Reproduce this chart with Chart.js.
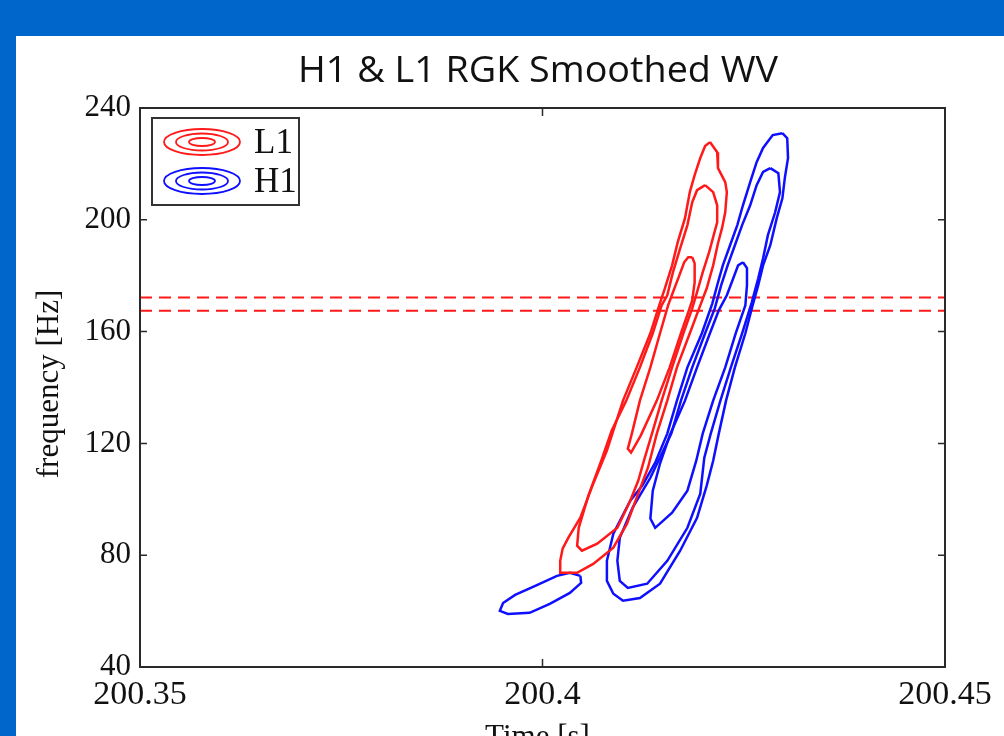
<!DOCTYPE html>
<html><head><meta charset="utf-8">
<script src="https://cdn.jsdelivr.net/npm/chart.js@4.4.0/dist/chart.umd.min.js"></script>
<style>html,body{margin:0;padding:0;background:#0066cc;overflow:hidden}canvas{display:block}</style>
</head><body>
<canvas id="c" width="1004" height="736"></canvas>
<script>
// ---- data ----
const chartTitle = 'H1 & L1 RGK Smoothed WV';
const xAxisTitle = 'Time [s]';
const yAxisTitle = 'frequency [Hz]';
const xTicks = [200.35, 200.40, 200.45];
const xTickLabels = ['200.35', '200.4', '200.45'];
const yTicks = [40, 80, 120, 160, 200, 240];
const yTickLabels = ['40', '80', '120', '160', '200', '240'];
const seriesLabels = ['L1', 'H1'];
const dashedLevels = [172.2, 167.5];

// contour loops [time s, frequency Hz]
const l1Outer = [[200.4208,227.8],[200.4217,224.2],[200.4218,218.5],[200.4227,213.5],[200.4229,209.9],[200.4227,202.7],[200.4223,197.0],[200.4218,191.6],[200.4212,183.7],[200.4204,175.5],[200.4196,169.4],[200.4183,159.4],[200.4167,147.2],[200.4155,135.3],[200.4142,123.5],[200.4131,111.3],[200.4117,100.6],[200.4105,91.3],[200.4088,82.7],[200.4063,76.9],[200.4043,73.7],[200.4022,73.7],[200.4022,78.0],[200.4025,82.3],[200.4032,86.2],[200.4047,93.4],[200.4063,105.6],[200.4080,117.4],[200.4100,135.3],[200.4117,147.2],[200.4134,159.4],[200.4145,169.4],[200.4152,175.5],[200.4161,183.7],[200.4168,192.0],[200.4177,200.6],[200.4183,209.9],[200.4189,216.0],[200.4196,222.1],[200.4202,226.4],[200.4208,227.8]];
const l1Middle = [[200.4202,212.4],[200.4212,209.9],[200.4217,205.2],[200.4217,199.1],[200.4212,193.8],[200.4207,188.4],[200.4199,181.2],[200.4192,174.1],[200.4186,168.3],[200.4175,159.4],[200.4161,147.2],[200.4148,135.3],[200.4136,123.5],[200.4126,113.8],[200.4119,106.7],[200.4109,99.5],[200.4093,89.8],[200.4068,84.1],[200.4049,81.6],[200.4043,83.4],[200.4045,89.8],[200.4057,101.3],[200.4073,113.8],[200.4086,124.6],[200.4104,135.3],[200.4121,147.2],[200.4137,159.4],[200.4148,169.4],[200.4155,173.0],[200.4162,181.2],[200.4171,189.8],[200.4180,198.1],[200.4186,206.3],[200.4192,210.6],[200.4202,212.4]];
const l1Inner = [[200.4186,186.6],[200.4189,184.4],[200.4189,177.6],[200.4186,171.2],[200.4181,166.9],[200.4172,159.4],[200.4158,147.2],[200.4142,135.3],[200.4122,122.8],[200.4110,116.7],[200.4106,118.1],[200.4111,123.5],[200.4121,135.3],[200.4134,147.2],[200.4146,159.4],[200.4156,169.4],[200.4163,174.8],[200.4170,180.1],[200.4176,184.8],[200.4181,186.6],[200.4186,186.6]];
const h1Outer = [[200.4298,231.0],[200.4304,229.2],[200.4305,222.1],[200.4301,214.9],[200.4298,207.7],[200.4291,200.6],[200.4283,190.9],[200.4274,183.7],[200.4268,176.6],[200.4261,169.4],[200.4252,159.4],[200.4239,147.2],[200.4228,135.3],[200.4219,123.5],[200.4212,113.8],[200.4204,104.9],[200.4192,93.4],[200.4171,81.6],[200.4146,69.8],[200.4121,64.7],[200.4100,63.7],[200.4088,66.2],[200.4080,70.8],[200.4080,78.0],[200.4088,87.7],[200.4109,99.5],[200.4124,104.9],[200.4140,113.1],[200.4155,123.5],[200.4167,135.3],[200.4180,147.2],[200.4198,159.4],[200.4211,170.1],[200.4217,176.6],[200.4224,183.7],[200.4233,190.9],[200.4242,198.1],[200.4249,205.2],[200.4258,213.5],[200.4266,220.6],[200.4274,225.7],[200.4286,230.3],[200.4298,231.0]];
const h1Middle = [[200.4283,218.5],[200.4293,216.7],[200.4295,209.9],[200.4289,202.7],[200.4280,194.5],[200.4274,186.2],[200.4268,179.1],[200.4260,170.5],[200.4248,159.4],[200.4234,147.2],[200.4221,135.3],[200.4209,123.5],[200.4201,114.9],[200.4196,102.0],[200.4180,89.8],[200.4155,78.0],[200.4130,69.8],[200.4106,68.3],[200.4096,70.8],[200.4093,78.0],[200.4096,86.2],[200.4112,97.0],[200.4134,107.7],[200.4147,115.6],[200.4160,123.5],[200.4172,135.3],[200.4186,147.2],[200.4202,159.4],[200.4214,168.3],[200.4222,176.6],[200.4230,183.7],[200.4239,190.9],[200.4248,198.1],[200.4258,205.2],[200.4266,212.4],[200.4274,217.1],[200.4283,218.5]];
const h1Inner = [[200.4249,184.8],[200.4254,182.7],[200.4254,176.6],[200.4252,169.4],[200.4240,159.4],[200.4227,147.2],[200.4212,135.3],[200.4199,123.5],[200.4191,113.8],[200.4180,103.1],[200.4161,95.2],[200.4140,89.8],[200.4134,93.1],[200.4137,103.1],[200.4146,112.8],[200.4158,122.8],[200.4177,135.3],[200.4192,147.2],[200.4208,159.4],[200.4219,167.6],[200.4229,173.0],[200.4237,179.1],[200.4243,183.7],[200.4249,184.8]];
const h1Small = [[200.4047,72.6],[200.4048,70.1],[200.4034,66.5],[200.4009,62.6],[200.3984,59.4],[200.3957,59.0],[200.3947,60.1],[200.3951,62.9],[200.3966,65.8],[200.3991,69.0],[200.4018,72.6],[200.4034,73.7],[200.4047,72.6]];

// ---- styles ----
const RED = 'rgb(255,25,25)';
const BLUE = 'rgb(15,15,255)';
const SERIF = '"Liberation Serif", "DejaVu Serif", serif';
const SANS = '"Open Sans", "Liberation Sans", sans-serif';
const TEXT = '#111111';

const toPts = a => a.map(p => ({x: p[0], y: p[1]}));
function loop(label, pts, color) {
  return {label, data: toPts(pts), borderColor: color, borderWidth: 2.5, pointRadius: 0,
          showLine: true, fill: false, tension: 0};
}
const datasets = [
  loop(seriesLabels[0], l1Outer, RED),
  loop(seriesLabels[0], l1Middle, RED),
  loop(seriesLabels[0], l1Inner, RED),
  loop(seriesLabels[1], h1Outer, BLUE),
  loop(seriesLabels[1], h1Middle, BLUE),
  loop(seriesLabels[1], h1Inner, BLUE),
  loop(seriesLabels[1], h1Small, BLUE),
];
dashedLevels.forEach(v => datasets.push({
  label: 'level', data: [{x: xTicks[0], y: v}, {x: xTicks[xTicks.length - 1], y: v}],
  borderColor: RED, borderWidth: 2, borderDash: [12, 7], pointRadius: 0, showLine: true, fill: false
}));

const decor = {
  id: 'decor',
  beforeDraw(chart) {
    const c = chart.ctx;
    c.save();
    c.fillStyle = '#0066cc';
    c.fillRect(0, 0, chart.width, chart.height);
    c.fillStyle = '#ffffff';
    c.fillRect(16, 36, chart.width - 16, chart.height - 36);
    c.restore();
  },
  afterDraw(chart) {
    const c = chart.ctx, a = chart.chartArea;
    const xs = chart.scales.x, ys = chart.scales.y;
    c.save();
    // box
    c.strokeStyle = '#2a2a2a';
    c.lineWidth = 2;
    c.strokeRect(a.left, a.top, a.right - a.left, a.bottom - a.top);
    // inward ticks
    c.lineWidth = 1.5;
    c.beginPath();
    yTicks.forEach(v => {
      const y = ys.getPixelForValue(v);
      c.moveTo(a.left, y); c.lineTo(a.left + 7, y);
      c.moveTo(a.right, y); c.lineTo(a.right - 7, y);
    });
    xTicks.forEach(v => {
      const x = xs.getPixelForValue(v);
      c.moveTo(x, a.top); c.lineTo(x, a.top + 8);
      c.moveTo(x, a.bottom); c.lineTo(x, a.bottom - 8);
    });
    c.stroke();

    // legend
    const lx = 152, ly = 118, lw = 147, lh = 87;
    c.fillStyle = '#fff';
    c.fillRect(lx, ly, lw, lh);
    c.strokeStyle = '#333';
    c.lineWidth = 2;
    c.strokeRect(lx, ly, lw, lh);
    const entries = [{label: seriesLabels[0], color: RED, cy: 142}, {label: seriesLabels[1], color: BLUE, cy: 181}];
    entries.forEach(e => {
      c.strokeStyle = e.color;
      c.lineWidth = 1.8;
      [[38, 13], [26, 8.5], [13, 4]].forEach(([rx, ry]) => {
        c.beginPath();
        c.ellipse(202, e.cy, rx, ry, 0, 0, Math.PI * 2);
        c.stroke();
      });
      c.fillStyle = TEXT;
      c.font = '35px ' + SERIF;
      c.textAlign = 'left';
      c.textBaseline = 'alphabetic';
      c.fillText(e.label, 254, e.cy + 11);
    });

    // chart title
    c.fillStyle = TEXT;
    c.font = '37px ' + SANS;
    c.textAlign = 'center';
    c.textBaseline = 'alphabetic';
    const tw = c.measureText(chartTitle).width;
    c.save();
    c.translate(538, 82);
    c.scale(480 / tw, 1);
    c.fillText(chartTitle, 0, 0);
    c.restore();

    // axis titles
    c.font = '31px ' + SERIF;
    c.textAlign = 'center';
    c.fillText(xAxisTitle, (a.left + a.right) / 2 - 5, 746);
    c.save();
    c.translate(58, 384);
    c.rotate(-Math.PI / 2);
    c.textBaseline = 'alphabetic';
    c.fillText(yAxisTitle, 0, 0);
    c.restore();
    c.restore();
  }
};

new Chart(document.getElementById('c'), {
  type: 'scatter',
  data: {datasets},
  options: {
    responsive: false,
    animation: false,
    devicePixelRatio: 1,
    layout: {padding: {left: 0, right: 59, top: 108, bottom: 0}},
    plugins: {legend: {display: false}, title: {display: false}, tooltip: {enabled: false}},
    scales: {
      x: {
        type: 'linear', min: xTicks[0], max: xTicks[xTicks.length - 1],
        afterBuildTicks: s => { s.ticks = xTicks.map(v => ({value: v})); },
        afterFit: s => { s.height = 69; },
        grid: {display: false, drawTicks: false},
        border: {display: false},
        ticks: {autoSkip: false, maxRotation: 0, padding: 8, color: TEXT,
                font: {family: SERIF, size: 34},
                callback: (v, i) => xTickLabels[i]}
      },
      y: {
        type: 'linear', min: yTicks[0], max: yTicks[yTicks.length - 1],
        afterBuildTicks: s => { s.ticks = yTicks.map(v => ({value: v})); },
        afterFit: s => { s.width = 140; },
        grid: {display: false, drawTicks: false},
        border: {display: false},
        ticks: {autoSkip: false, padding: 9, color: TEXT,
                font: {family: SERIF, size: 31},
                callback: (v, i) => yTickLabels[i]}
      }
    }
  },
  plugins: [decor]
});
</script>
</body></html>
